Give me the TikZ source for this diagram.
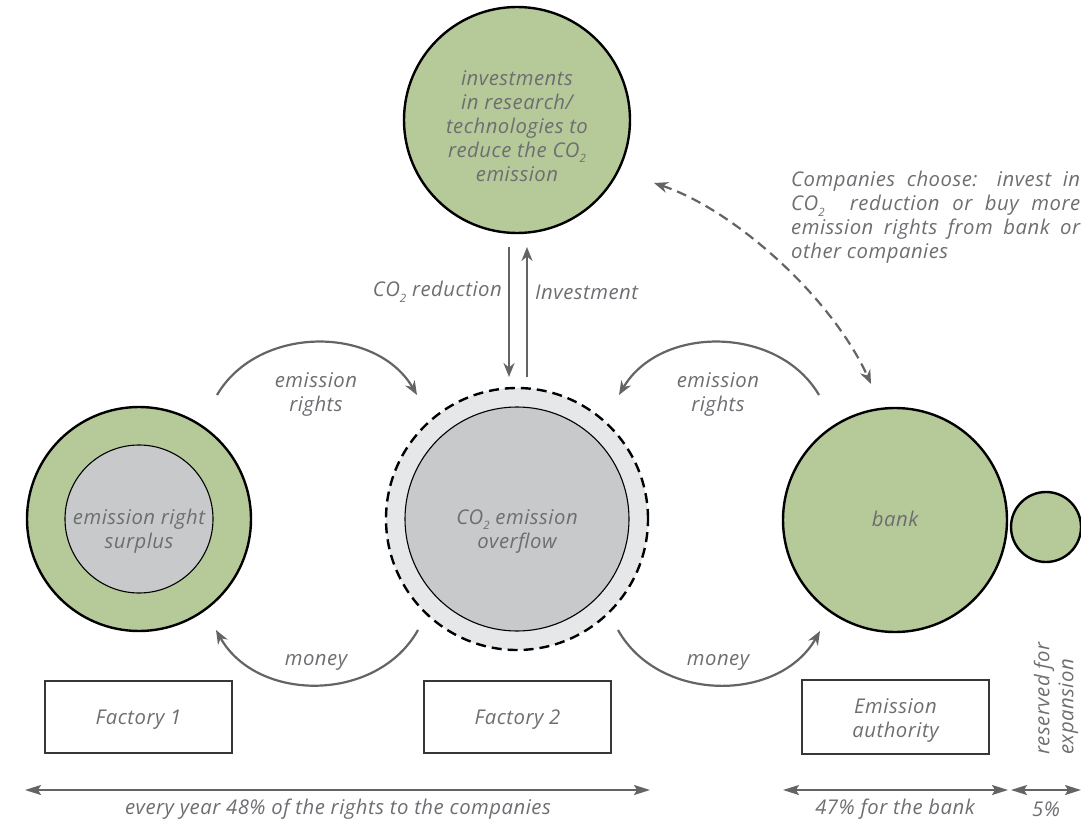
\documentclass[tikz,border=0pt]{standalone}
\usepackage{fontspec}
\setmainfont{Open Sans}[LetterSpace=2.5]
\usetikzlibrary{arrows.meta}
\definecolor{leaf}{RGB}{181,201,153}
\definecolor{txt}{RGB}{109,110,113}
\definecolor{arr}{RGB}{99,100,102}
\definecolor{core}{RGB}{200,201,203}
\definecolor{halo}{RGB}{230,231,232}
\definecolor{boxline}{RGB}{55,55,55}
\newcommand\cosub{\raisebox{-0.5ex}{\fontsize{11.5}{12}\selectfont 2}}
\begin{document}
\begin{tikzpicture}[x=1pt,y=-1pt,
  lbl/.style={font=\fontsize{20.3}{24}\selectfont\itshape, text=txt, align=center, inner sep=0pt},
  disc/.style={circle, draw=black, line width=2.4pt, inner sep=0pt, minimum size=#1},
  innerdisc/.style={circle, draw=black, line width=1.1pt, inner sep=0pt, minimum size=#1, fill=core},
  flow/.style={draw=arr, line width=2.2pt, -{Stealth[length=14pt,width=11pt]}},
  dflow/.style={draw=arr, line width=2.2pt, dash pattern=on 10pt off 6pt, {Stealth[length=14pt,width=11pt]}-{Stealth[length=14pt,width=11pt]}},
  span/.style={draw=arr, line width=1.6pt, {Stealth[length=16pt,width=10pt,inset=3pt]}-{Stealth[length=16pt,width=10pt,inset=3pt]}},
  fbox/.style={draw=boxline, line width=1.1pt, minimum width=187pt, minimum height=72pt, inner sep=0pt}
]
\useasboundingbox (0,0) rectangle (1081,821);

% circles
\node[disc=226pt, fill=leaf] (inv) at (517,120) {};
\node[lbl] at (517,126) {investments\\in research/\\technologies to\\reduce the CO\cosub\\emission};

\node[disc=224pt, fill=leaf] (f1c) at (139,519) {};
\node[innerdisc=148pt] (f1s) at (139,519) {};
\node[lbl] at (139,531) {emission right\\surplus};

\node[circle, fill=halo, draw=black, line width=2.4pt, dash pattern=on 10pt off 6pt, inner sep=0pt, minimum size=262pt] (f2c) at (517,519) {};
\node[innerdisc=224pt] (f2o) at (517,519) {};
\node[lbl] at (517,531) {CO\cosub\ emission\\overflow};

\node[disc=224pt, fill=leaf] (bank) at (895,520) {};
\node[lbl] at (895,519) {bank};
\node[disc=70pt, fill=leaf] (res) at (1046,527) {};

% vertical arrows
\coordinate (dA) at (509,247); \coordinate (dB) at (509,377);
\coordinate (uA) at (527,377); \coordinate (uB) at (527,247);
\draw[flow] (dA) -- (dB);
\draw[flow] (uA) -- (uB);
\node[lbl, anchor=east] at (502,292) {CO\cosub\ reduction};
\node[lbl, anchor=west] at (535,292) {Investment};

% curved arrows
\coordinate (a1) at (217,395); \coordinate (a2) at (417,395);
\draw[flow] (a1) .. controls (258,325) and (376,325) .. (a2);
\node[lbl] at (316,394) {emission\\rights};

\coordinate (b1) at (819,395); \coordinate (b2) at (619,395);
\draw[flow] (b1) .. controls (778,325) and (660,325) .. (b2);
\node[lbl] at (718,394) {emission\\rights};

\coordinate (c1) at (418,630); \coordinate (c2) at (216,630);
\draw[flow] (c1) .. controls (377,703) and (257,703) .. (c2);
\node[lbl] at (316,662) {money};

\coordinate (e1) at (618,630); \coordinate (e2) at (820,631);
\draw[flow] (e1) .. controls (659,703) and (779,703) .. (e2);
\node[lbl] at (718,662) {money};

% dashed choice arrow
\coordinate (g1) at (654,183); \coordinate (g2) at (871,384);
\draw[dflow] (g1) .. controls (735,210) and (832,298) .. (g2);
\node[lbl, anchor=north west, align=left] at (791,171) {\makebox[289pt][s]{Companies choose: invest in}\\\makebox[289pt][s]{CO\cosub\ \ reduction or buy more}\\\makebox[289pt][s]{emission rights from bank or}\\other companies};

% boxes
\node[fbox] (fac1) at (138.5,717) {};
\node[lbl] at (138.5,720) {Factory 1};
\node[fbox] (fac2) at (517.5,717) {};
\node[lbl] at (517.5,720) {Factory 2};
\node[fbox, minimum height=74pt] (auth) at (895.5,717) {};
\node[lbl] at (895.5,720) {Emission\\authority};

\node[lbl, rotate=90, anchor=west, align=left] at (1056,755) {reserved for\\expansion};

% spans
\coordinate (s1) at (25,790); \coordinate (s2) at (650,790);
\draw[span] (s1) -- (s2);
\node[lbl] at (338,809) {every year 48\% of the rights to the companies};
\coordinate (t1) at (783,790); \coordinate (t2) at (1008,790);
\draw[span] (t1) -- (t2);
\node[lbl] at (895,809) {47\% for the bank};
\coordinate (r1) at (1011,790); \coordinate (r2) at (1081,790);
\draw[span] (r1) -- (r2);
\node[lbl] at (1046,809) {5\%};
\end{tikzpicture}
\end{document}
